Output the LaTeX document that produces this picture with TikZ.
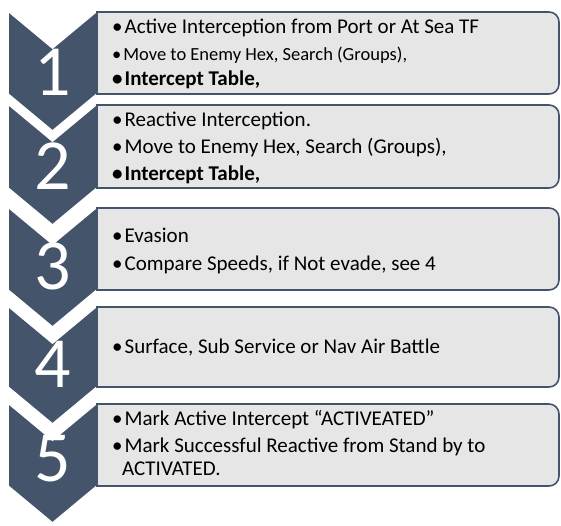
\documentclass[tikz,border=0pt]{standalone}
\usepackage{fontspec}
\setmainfont{Carlito}
\usetikzlibrary{calc}
\definecolor{slate}{HTML}{44546A}
\definecolor{boxgrey}{HTML}{E7E6E6}
\tikzstyle{ChevronShape}=[fill=slate, draw=white, line width=1.6pt, miter limit=20]
\tikzstyle{StepBox}=[fill=boxgrey, draw=slate, line width=1.6pt]
\tikzstyle{StepNum}=[anchor=base, inner sep=0pt, text=white, font=\fontsize{72}{72}\selectfont]
\tikzstyle{BulletText}=[anchor=base west, inner sep=0pt, font=\fontsize{21}{21}\selectfont]
\tikzstyle{SmallBulletText}=[BulletText, font=\fontsize{18.5}{18.5}\selectfont]
\tikzstyle{BoldBulletText}=[BulletText, font=\fontsize{21}{21}\selectfont\bfseries]

\begin{document}
\begin{tikzpicture}[x=1pt, y=-1pt]
\useasboundingbox (0,0) rectangle (561,525);

\draw[ChevronShape] (8,11) -- (52.5,48) -- (97,11) -- (97,94) -- (52.5,131) -- (8,94) -- cycle;
\draw[ChevronShape] (8,104) -- (52.5,141) -- (97,104) -- (97,188) -- (52.5,225) -- (8,188) -- cycle;
\draw[ChevronShape] (8,207) -- (52.5,244) -- (97,207) -- (97,290) -- (52.5,327) -- (8,290) -- cycle;
\draw[ChevronShape] (8,306) -- (52.5,343) -- (97,306) -- (97,387) -- (52.5,424) -- (8,387) -- cycle;
\draw[ChevronShape] (8,403) -- (52.5,440) -- (97,403) -- (97,486) -- (52.5,523) -- (8,486) -- cycle;

\draw[StepBox] (97,12) [rounded corners=10pt] -- (559,12) -- (559,94) [sharp corners] -- (97,94) -- cycle;
\draw[StepBox] (97,105) [rounded corners=10pt] -- (559,105) -- (559,188) [sharp corners] -- (97,188) -- cycle;
\draw[StepBox] (97,208) [rounded corners=10pt] -- (559,208) -- (559,290) [sharp corners] -- (97,290) -- cycle;
\draw[StepBox] (97,307) [rounded corners=10pt] -- (559,307) -- (559,387) [sharp corners] -- (97,387) -- cycle;
\draw[StepBox] (97,404) [rounded corners=10pt] -- (559,404) -- (559,486) [sharp corners] -- (97,486) -- cycle;

\node[StepNum](NUM1) at (53,95) {1};
\node[StepNum](NUM2) at (53,189) {2};
\node[StepNum](NUM3) at (53,289) {3};
\node[StepNum](NUM4) at (53,387) {4};
\node[StepNum](NUM5) at (53,481) {5};

\node[BulletText](T1A) at (112,33) {•\kern2pt Active Interception from Port or At Sea TF};
\node[SmallBulletText](T1B) at (112,60) {•\kern2pt Move to Enemy Hex, Search (Groups),};
\node[BoldBulletText](T1C) at (112,85) {•\kern2pt Intercept Table,};

\node[BulletText](T2A) at (112,126) {•\kern2pt Reactive Interception.};
\node[BulletText](T2B) at (112,153) {•\kern2pt Move to Enemy Hex, Search (Groups),};
\node[BoldBulletText](T2C) at (112,180) {•\kern2pt Intercept Table,};

\node[BulletText](T3A) at (112,242) {•\kern2pt Evasion};
\node[BulletText](T3B) at (112,270) {•\kern2pt Compare Speeds, if Not evade, see 4};

\node[BulletText](T4A) at (112,353) {•\kern2pt Surface, Sub Service or Nav Air Battle};

\node[BulletText](T5A) at (112,425) {•\kern2pt Mark Active Intercept “ACTIVEATED”};
\node[BulletText](T5B) at (112,452) {•\kern2pt Mark Successful Reactive from Stand by to};
\node[BulletText](T5C) at (T5B.base west) [xshift=10pt, yshift=-23pt] {ACTIVATED.};
\end{tikzpicture}
\end{document}
